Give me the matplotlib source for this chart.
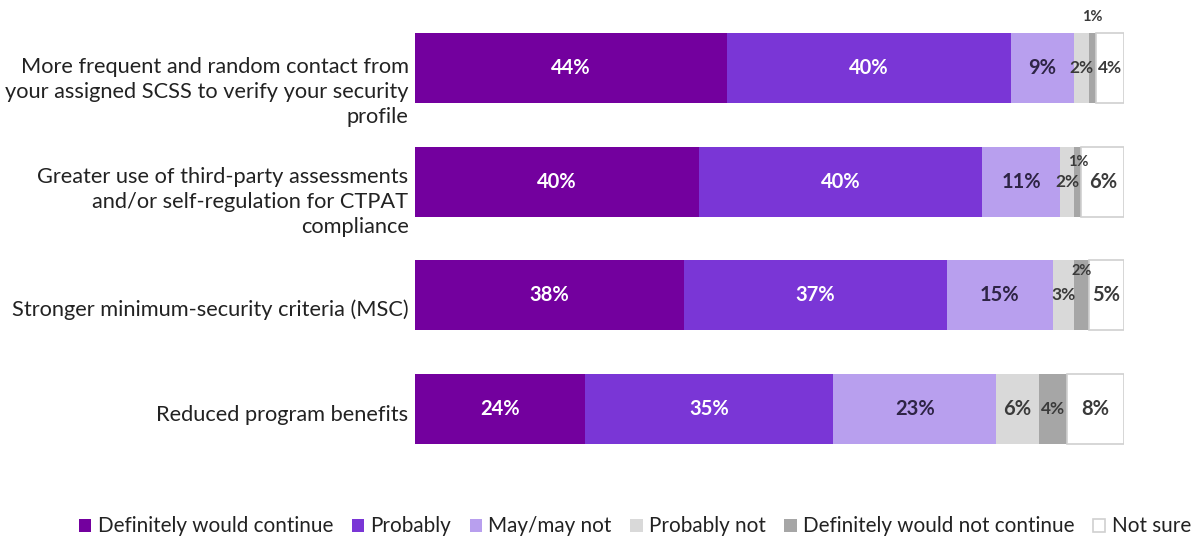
import matplotlib
matplotlib.use("Agg")
import matplotlib.pyplot as plt
import numpy as np

plt.rcParams['font.family'] = ['Lato', 'DejaVu Sans']

categories = [
    "More frequent and random contact from\nyour assigned SCSS to verify your security\nprofile",
    "Greater use of third-party assessments\nand/or self-regulation for CTPAT\ncompliance",
    "Stronger minimum-security criteria (MSC)",
    "Reduced program benefits",
]
series_names = ["Definitely would continue", "Probably", "May/may not",
                "Probably not", "Definitely would not continue", "Not sure"]
definitely = [44, 40, 38, 24]
probably = [40, 40, 37, 35]
maybe = [9, 11, 15, 23]
probably_not = [2, 2, 3, 6]
definitely_not = [1, 1, 2, 4]
not_sure = [4, 6, 5, 8]

series = [definitely, probably, maybe, probably_not, definitely_not, not_sure]
colors = ["#73009E", "#7A36D6", "#B89FEE", "#D9D9D9", "#A6A6A6", "#FFFFFF"]
edges = [None, None, None, None, None, "#D0D0D0"]
text_colors = ["white", "white", "#2E2445", "#3A3A3A", "#3A3A3A", "#3A3A3A"]

fig = plt.figure(figsize=(11.98, 5.4), dpi=100)
ax = fig.add_axes([415/1198, (540-476.6)/540, 709/1198, 476.6/540])

y = np.arange(len(categories))
left = np.zeros(len(categories))
bh = 0.617
for k, (vals, c) in enumerate(zip(series, colors)):
    vals = np.array(vals, dtype=float)
    if edges[k]:
        ax.barh(y, vals, left=left, height=bh, color=c, edgecolor=edges[k], linewidth=1.2,
                label=series_names[k])
    else:
        ax.barh(y, vals, left=left, height=bh, color=c, label=series_names[k])
    for i, v in enumerate(vals):
        cx = left[i] + v / 2
        cy = y[i]
        fs = 14.5
        weight = 'bold'
        if v <= 1:
            fs = 10.5
            if i == 0:
                cy = y[i] - bh / 2 - 0.14
            else:
                cy = y[i] - bh / 2 + 0.14
        elif k == 4 and v <= 2:
            fs = 10.5
            cy = y[i] - bh / 2 + 0.1
        elif k >= 3 and v <= 4:
            fs = 12.5
        ax.text(cx, cy, f"{int(v)}%", ha='center', va='center', fontsize=fs,
                fontweight=weight, color=text_colors[k])
    left += vals

ax.set_xlim(0, 100)
ax.set_ylim(3.6, -0.6)
ax.axis('off')

offsets = [0.21, 0.18, 0.13, 0.06]
for i, cat in enumerate(categories):
    ax.text(-0.9, y[i] + offsets[i], cat, ha='right', va='center', multialignment='right',
            fontsize=15.7, color='#222222', linespacing=1.3,
            transform=ax.transData, clip_on=False)

handles, labels = ax.get_legend_handles_labels()
leg = fig.legend(handles, labels, loc='center', bbox_to_anchor=(0.53, 0.025), ncol=6,
                 frameon=False, fontsize=14.9, handlelength=0.6, handleheight=0.6,
                 handletextpad=0.3, columnspacing=0.9, labelcolor='#222222')

fig.savefig("out.png", dpi=100)
